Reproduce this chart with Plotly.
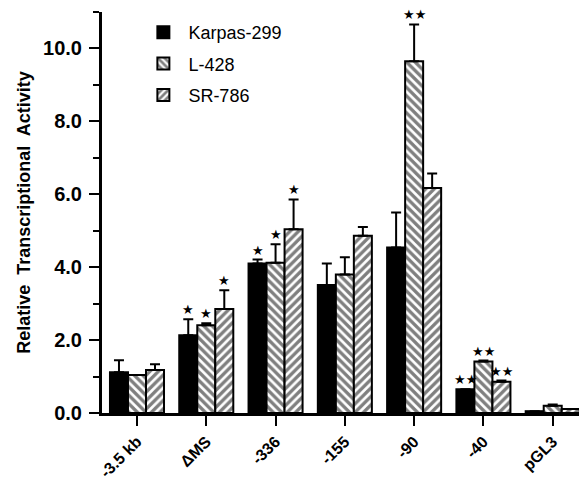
import plotly.graph_objects as go

categories = ["-3.5 kb", "ΔMS", "-336", "-155", "-90", "-40", "pGL3"]
series_names = ["Karpas-299", "L-428", "SR-786"]
karpas = [1.12, 2.13, 4.10, 3.51, 4.54, 0.65, 0.05]
karpas_err = [0.33, 0.44, 0.11, 0.59, 0.96, 0.0, 0.0]
l428 = [1.04, 2.41, 4.12, 3.80, 9.65, 1.41, 0.20]
l428_err = [0.0, 0.05, 0.51, 0.47, 1.01, 0.03, 0.03]
sr786 = [1.18, 2.85, 5.04, 4.86, 6.17, 0.86, 0.11]
sr786_err = [0.16, 0.52, 0.82, 0.24, 0.40, 0.03, 0.0]
karpas_sig = ["", "*", "*", "", "", "**", ""]
l428_sig = ["", "*", "*", "", "**", "**", ""]
sr786_sig = ["", "*", "*", "", "", "**", ""]
y_ticks = [0, 2, 4, 6, 8, 10]

values = [karpas, l428, sr786]
errors = [karpas_err, l428_err, sr786_err]
sigs = [karpas_sig, l428_sig, sr786_sig]
patterns = ["", "\\", "/"]
colors = ["black", "white", "white"]

bargap = 0.22
bw = (1 - bargap) / 3
xs = list(range(len(categories)))

fig = go.Figure()
for k in range(3):
    marker = dict(color=colors[k], line=dict(color="black", width=2))
    if patterns[k]:
        marker["pattern"] = dict(shape=patterns[k], fgcolor="black", bgcolor="white",
                                 size=6, solidity=0.55)
    fig.add_trace(go.Bar(
        x=xs, y=values[k], name=series_names[k], legendgroup=series_names[k],
        marker=marker,
        error_y=dict(type="data", array=errors[k], arrayminus=[0] * len(xs),
                     symmetric=False, color="black", thickness=2, width=5),
    ))

annotations = []
for k in range(3):
    off = (k - 1) * bw
    for i, s in enumerate(sigs[k]):
        if s:
            annotations.append(dict(
                x=xs[i] + off, y=values[k][i] + errors[k][i], xref="x", yref="y",
                text="★" * len(s), showarrow=False, yanchor="bottom", yshift=0,
                font=dict(size=13, color="black", family="DejaVu Sans"),
            ))

# page body has an 8px default margin; the figure is sized to compensate
fig.update_layout(
    width=579, height=475,
    margin=dict(l=94, r=0, t=4, b=70),
    paper_bgcolor="white", plot_bgcolor="white",
    barmode="group", bargap=bargap, bargroupgap=0,
    font=dict(family="Liberation Sans, Arial", color="black"),
    legend=dict(x=0.075, y=0.995, xanchor="left", yanchor="top",
                bgcolor="rgba(0,0,0,0)", font=dict(size=18), itemwidth=40,
                traceorder="grouped", tracegroupgap=5),
    annotations=annotations,
)
fig.update_xaxes(
    range=[-0.505, 6.495], tickvals=xs, ticktext=categories, tickangle=-45,
    showline=True, linecolor="black", linewidth=3, ticks="outside",
    ticklen=10, tickwidth=2, tickcolor="black", showgrid=False, zeroline=False,
    ticklabelstandoff=0, automargin=False,
    tickfont=dict(size=16, family="Liberation Sans, Arial", weight="bold"),
)
fig.update_yaxes(
    range=[0, 11], tickvals=y_ticks, tickformat=".1f",
    showline=True, linecolor="black", linewidth=3, ticks="outside",
    ticklen=10, tickwidth=2, tickcolor="black", showgrid=False, zeroline=False,
    minor=dict(dtick=1, ticks="outside", ticklen=6, tickwidth=2, tickcolor="black"),
    ticklabelstandoff=3, automargin=False,
    tickfont=dict(size=20, family="Liberation Sans, Arial", weight="bold"),
    title=dict(text="<b>Relative  Transcriptional  Activity</b>", standoff=8,
               font=dict(size=18, family="Liberation Sans, Arial")),
)
fig.write_html("out.html")
